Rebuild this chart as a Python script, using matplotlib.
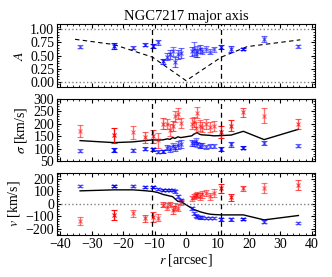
import numpy as np
import matplotlib
matplotlib.use("Agg")
import matplotlib.pyplot as plt
from matplotlib.ticker import MultipleLocator

# ==========================================
# data
# ==========================================
r = [-33.7, -22.9, -16.9, -13.0, -10.6, -8.9, -7.3, -6.0, -5.1, -4.3, -3.5, -2.6, -1.7,
     1.8, 2.4, 3.0, 3.6, 4.3, 5.0, 6.2, 7.5, 8.8, 11.2, 14.3, 18.2, 24.8, 35.7]

A_blue = [0.67, 0.68, 0.65, 0.71, 0.68, 0.75, 0.39, 0.48, 0.52, 0.58, 0.38, 0.52, 0.55,
          0.58, 0.63, 0.55, 0.58, 0.62, 0.58, 0.62, 0.57, 0.62, 0.67, 0.62, 0.63, 0.82, 0.68]
A_blue_err = [0.03, 0.05, 0.03, 0.03, 0.04, 0.04, 0.05, 0.06, 0.08, 0.08, 0.10, 0.09, 0.09,
              0.08, 0.12, 0.08, 0.10, 0.08, 0.06, 0.06, 0.05, 0.05, 0.04, 0.06, 0.02, 0.06, 0.03]

r_A_model = [-35.3, -23.0, -10.7, 0.0, 11.2, 19.4, 36.3]
A_model = [0.81, 0.71, 0.47, 0.02, 0.47, 0.67, 0.80]

sig_blue = [93, 97, 95, 101, 98, 89, 90, 105, 100, 112, 105, 115, 120,
            125, 122, 130, 118, 112, 115, 108, 110, 112, 100, 118, 105, 125, 113]
sig_blue_err = [5, 8, 6, 6, 7, 6, 6, 10, 12, 12, 12, 15, 15,
                12, 10, 12, 10, 10, 10, 8, 8, 8, 8, 10, 6, 8, 6]
sig_red = [171, 155, 166, 146, 150, 135, 201, 198, 175, 191, 229, 240, 203,
           201, 206, 184, 243, 193, 186, 200, 186, 190, 167, 193, 245, 232, 198]
sig_red_err = [25, 30, 25, 22, 25, 30, 22, 20, 25, 20, 22, 22, 20,
               20, 20, 22, 22, 22, 20, 20, 20, 20, 25, 20, 18, 30, 20]
sig_model = [133, 125, 128, 133, 136, 135, 136, 140, 138, 145, 142, 148, 145,
             152, 158, 162, 165, 158, 156, 155, 154, 152, 153, 155, 170, 137, 178]

v_blue = [139, 144, 139, 131, 133, 120, 112, 107, 107, 112, 99, 59, 32,
          -35, -75, -93, -101, -107, -107, -109, -112, -115, -123, -123, -123, -141, -155]
v_blue_err = [8, 8, 8, 8, 10, 8, 8, 8, 8, 8, 10, 10, 10,
              12, 12, 12, 10, 10, 10, 8, 8, 8, 10, 12, 8, 10, 8]
v_red = [-136, -88, -75, -115, -101, -109, -8, -21, -3, -48, -21, -29, 13,
         45, 59, 67, 72, 59, 75, 85, 59, 85, 125, 51, 125, 125, 152]
v_red_err = [35, 40, 30, 30, 40, 30, 20, 25, 20, 30, 25, 25, 20,
             20, 20, 20, 20, 25, 25, 25, 30, 30, 35, 30, 20, 40, 40]
v_model = [104, 112, 112, 105, 99, 90, 75, 68, 62, 58, 40, 20, 19,
           -35, -45, -50, -55, -62, -67, -75, -82, -85, -88, -88, -88, -128, -93]

alpha_blue = [0.5, 0.9, 0.6, 0.7, 0.9, 0.6, 0.8, 0.6, 0.6, 0.5, 0.6, 0.6, 0.6,
              0.6, 0.5, 0.5, 0.5, 0.6, 0.5, 0.5, 0.5, 0.5, 0.8, 0.7, 0.9, 0.6, 0.5]
alpha_red = [0.55, 0.95, 0.55, 0.65, 0.75, 0.55, 0.65, 0.55, 0.55, 0.65, 0.55, 0.55, 0.55,
             0.55, 0.55, 0.55, 0.55, 0.55, 0.55, 0.55, 0.55, 0.55, 0.9, 0.85, 0.65, 0.55, 0.65]

r_eff = [-10.7, 11.2]

# ==========================================
# style
# ==========================================
plt.rcParams['font.family'] = ['Liberation Serif', 'DejaVu Serif']
plt.rcParams['mathtext.fontset'] = 'stix'
plt.rcParams['font.size'] = 10
plt.rcParams['xtick.direction'] = 'in'
plt.rcParams['ytick.direction'] = 'in'
plt.rcParams['xtick.top'] = True
plt.rcParams['ytick.right'] = True
plt.rcParams['xtick.major.size'] = 3
plt.rcParams['ytick.major.size'] = 3
plt.rcParams['xtick.minor.size'] = 1.5
plt.rcParams['ytick.minor.size'] = 1.5
plt.rcParams['axes.linewidth'] = 0.8


def points(ax, y, yerr, alphas, color):
    for xi, yi, ei, al in zip(r, y, yerr, alphas):
        ax.errorbar(xi, yi, yerr=ei, fmt='x', color=color, ms=2.5, mew=0.8,
                    elinewidth=1.0, capsize=2.0, capthick=1.0, alpha=al)


fig = plt.figure(figsize=(3.32, 2.77), dpi=100)
left, width = 0.172, 0.777
ax1 = fig.add_axes([left, 0.686, width, 0.227])
ax2 = fig.add_axes([left, 0.417, width, 0.227])
ax3 = fig.add_axes([left, 0.151, width, 0.226])

# A panel
ax1.plot(r_A_model, A_model, 'k--', lw=0.8, dashes=(4, 3))
points(ax1, A_blue, A_blue_err, alpha_blue, 'b')
for yy in [0.0, 1.0]:
    ax1.axhline(yy, color='gray', ls=':', lw=1)
ax1.set_ylim(-0.1, 1.1)
ax1.set_yticks([0.0, 0.25, 0.5, 0.75, 1.0])
ax1.yaxis.set_minor_locator(MultipleLocator(0.05))
ax1.set_ylabel(r'$A$', labelpad=3)
ax1.set_title('NGC7217 major axis', fontsize=10.5, pad=3)

# sigma panel
ax2.plot(r, sig_model, 'k-', lw=1)
points(ax2, sig_red, sig_red_err, alpha_red, 'r')
points(ax2, sig_blue, sig_blue_err, alpha_blue, 'b')
ax2.set_ylim(50, 300)
ax2.yaxis.set_major_locator(MultipleLocator(50))
ax2.yaxis.set_minor_locator(MultipleLocator(10))
ax2.set_ylabel(r'$\sigma$ [km/s]', labelpad=3)

# v panel
ax3.plot(r, v_model, 'k-', lw=1)
points(ax3, v_red, v_red_err, alpha_red, 'r')
points(ax3, v_blue, v_blue_err, alpha_blue, 'b')
ax3.axhline(0, color='gray', ls=':', lw=1)
ax3.set_ylim(-250, 250)
ax3.set_yticks([-200, -100, 0, 100, 200])
ax3.yaxis.set_minor_locator(MultipleLocator(20))
ax3.set_ylabel(r'$v$ [km/s]', labelpad=3)
ax3.set_xlabel(r'$r$ [arcsec]', labelpad=1)

for ax in [ax1, ax2, ax3]:
    for xe in r_eff:
        ax.axvline(xe, color='k', ls='--', lw=0.9, dashes=(4, 3))
    ax.set_xlim(-41, 41)
    ax.xaxis.set_major_locator(MultipleLocator(10))
    ax.xaxis.set_minor_locator(MultipleLocator(2))
    ax.tick_params(labelsize=10, pad=2)
for ax in [ax1, ax2]:
    ax.tick_params(labelbottom=False)

fig.align_ylabels([ax1, ax2, ax3])
fig.savefig('out.png', dpi=100)
plt.close(fig)
